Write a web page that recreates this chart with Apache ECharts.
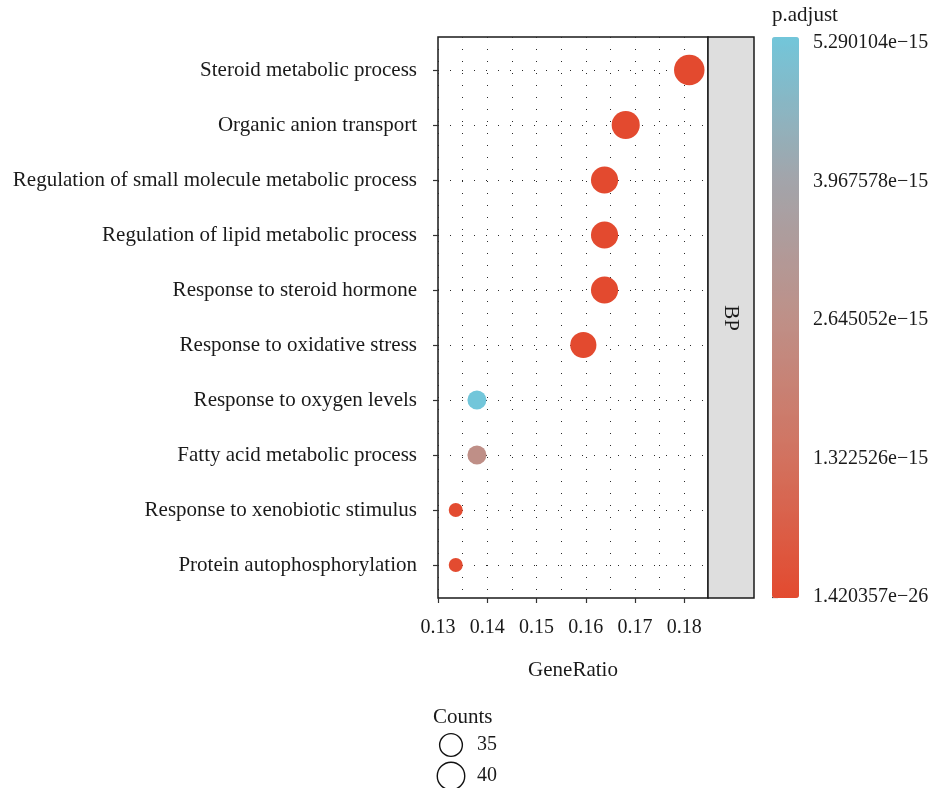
<!DOCTYPE html>
<html><head><meta charset="utf-8">
<script src="https://cdn.jsdelivr.net/npm/echarts@6/dist/echarts.min.js"></script>
<style>html,body{margin:0;padding:0;background:#fff}#c{width:935px;height:788px}</style>
</head><body><div id="c"></div>
<script>
// ---- data (top to bottom) ----
const categories = [
  "Steroid metabolic process",
  "Organic anion transport",
  "Regulation of small molecule metabolic process",
  "Regulation of lipid metabolic process",
  "Response to steroid hormone",
  "Response to oxidative stress",
  "Response to oxygen levels",
  "Fatty acid metabolic process",
  "Response to xenobiotic stimulus",
  "Protein autophosphorylation"
];
const geneRatio = [0.1810, 0.1681, 0.1638, 0.1638, 0.1638, 0.1595, 0.1379, 0.1379, 0.1336, 0.1336];
const counts = [42, 39, 38, 38, 38, 37, 32, 32, 31, 31];
const pAdjust = [1.420357e-26, 3.2e-22, 2.4e-20, 4.1e-19, 6.3e-19, 9.8e-18, 5.290104e-15, 2.6e-15, 2.2e-17, 3.6e-17];
const xTickStep = 0.01;
const colorTicks = [1.420357e-26, 1.322526e-15, 2.645052e-15, 3.967578e-15, 5.290104e-15];
const countLegend = [35, 40];

const FONT = '"Liberation Serif", "DejaVu Serif", serif';
const TXT = '#1a1a1a';

const cMin = Math.min(...counts), cMax = Math.max(...counts);
const pMin = Math.min(...pAdjust), pMax = Math.max(...pAdjust);
function sizeScale(c) { return 14 + 16.5 * Math.sqrt(Math.max(0, (c - cMin) / (cMax - cMin))); }

const data = categories.map((c, i) => [geneRatio[i], i + 1, counts[i], pAdjust[i]]);
const catIdx = categories.map((c, i) => i + 1);

function fmtExp(v) { return v.toExponential(6).replace('-', '\u2212'); }

const chart = echarts.init(document.getElementById('c'));
const dotted = { color: '#2a2a2a', width: 1, type: [1, 11] };

const G = { left: 438, top: 37, width: 270, height: 561 };

const legendGraphics = [
  { type: 'text', x: 433, y: 717, style: { text: 'Counts', font: '21px ' + FONT, fill: TXT, verticalAlign: 'middle' } }
];
countLegend.forEach((c, i) => {
  const r = sizeScale(c) * 0.95 / 2;
  const cy = 745 + i * 31;
  legendGraphics.push({ type: 'circle', shape: { cx: 451, cy: cy, r: r }, style: { fill: 'none', stroke: '#111', lineWidth: 1.4 } });
  legendGraphics.push({ type: 'text', x: 477, y: cy, style: { text: String(c), font: '20px ' + FONT, fill: TXT, verticalAlign: 'middle' } });
});

chart.setOption({
  animation: false,
  backgroundColor: '#fff',
  grid: [
    Object.assign({ show: true, borderColor: '#1a1a1a', borderWidth: 1.5, backgroundColor: '#fff' }, G),
    { left: 772, top: 43, width: 27, height: 554 }
  ],
  xAxis: [
    {
      type: 'value', gridIndex: 0, min: 0.13, max: 0.1848, interval: xTickStep,
      axisLine: { show: false },
      axisTick: { show: true, length: 5, lineStyle: { color: '#333', width: 1.2 } },
      axisLabel: { showMaxLabel: false, margin: 20, color: TXT, fontFamily: FONT, fontSize: 20,
        formatter: v => v.toFixed(2) },
      splitLine: { show: false },
      name: 'GeneRatio', nameLocation: 'middle', nameGap: 62,
      nameTextStyle: { color: TXT, fontFamily: FONT, fontSize: 21 }
    },
    {
      type: 'value', gridIndex: 0, position: 'top', min: 0.13, max: 0.1848, interval: xTickStep / 2,
      axisLine: { show: false }, axisTick: { show: false }, axisLabel: { show: false },
      splitLine: { show: true, lineStyle: dotted }
    },
    { type: 'value', gridIndex: 1, show: false, min: 0, max: 1 }
  ],
  yAxis: [
    {
      type: 'value', gridIndex: 0, min: 0.4, max: 10.6, inverse: true,
      axisLine: { show: false },
      axisTick: { show: true, length: 5, customValues: catIdx, lineStyle: { color: '#333', width: 1.2 } },
      axisLabel: { customValues: catIdx, margin: 21, color: TXT, fontFamily: FONT, fontSize: 21,
        formatter: v => categories[Math.round(v) - 1] || '' },
      splitLine: { show: true, lineStyle: dotted }
    },
    {
      type: 'value', gridIndex: 1, position: 'right', min: 0, max: pMax,
      axisLine: { show: false },
      axisTick: { show: true, length: 6, customValues: colorTicks, lineStyle: { color: '#333', width: 1.2 } },
      axisLabel: { customValues: colorTicks, margin: 14, color: TXT, fontFamily: FONT, fontSize: 20, formatter: fmtExp },
      splitLine: { show: false }
    }
  ],
  visualMap: {
    type: 'continuous', seriesIndex: 0, dimension: 3, min: pMin, max: pMax,
    inRange: { color: ['#E34A2F', '#D2725F', '#BE9088', '#A2A5AB', '#72C6DA'] },
    orient: 'vertical', left: 772, top: 37, itemWidth: 27, itemHeight: 561,
    padding: 0, text: null, showLabel: false, calculable: false, hoverLink: false
  },
  series: [{
    type: 'scatter', xAxisIndex: 0, yAxisIndex: 0, data: data,
    symbolSize: v => sizeScale(v[2]),
    itemStyle: { opacity: 1 },
    z: 5
  }],
  graphic: [
    { type: 'rect', shape: { x: 708, y: 37, width: 46, height: 561 }, style: { fill: '#dedede', stroke: '#1a1a1a', lineWidth: 1.5 }, z: 10 },
    { type: 'text', x: 731, y: 318, rotation: -Math.PI / 2, style: { text: 'BP', font: '21px ' + FONT, fill: TXT, align: 'center', verticalAlign: 'middle' }, z: 11 },
    { type: 'text', x: 772, y: 15, style: { text: 'p.adjust', font: '21px ' + FONT, fill: TXT, verticalAlign: 'middle' } }
  ].concat(legendGraphics)
});
</script></body></html>
